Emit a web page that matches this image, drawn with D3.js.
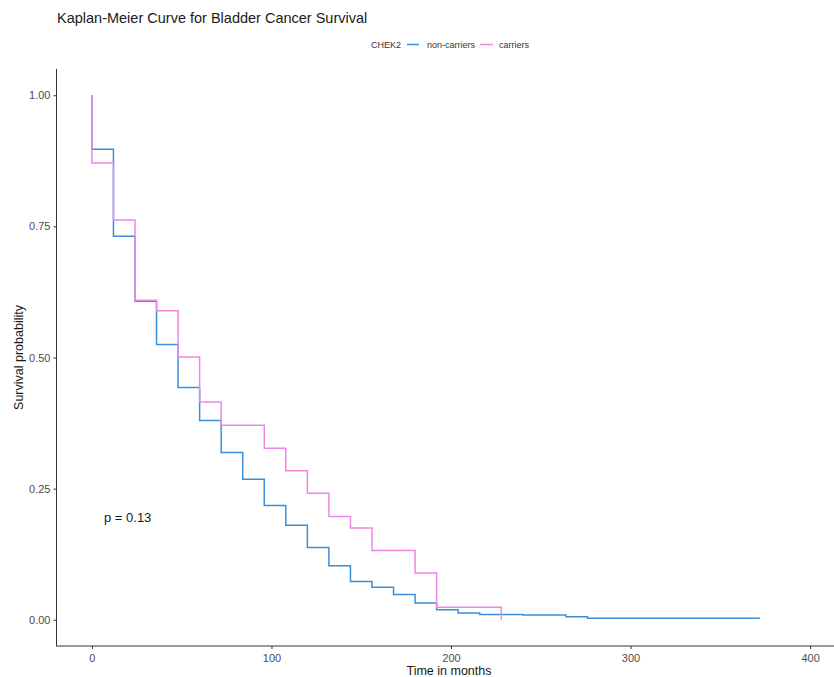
<!DOCTYPE html>
<html><head><meta charset="utf-8">
<script src="https://cdn.jsdelivr.net/npm/d3@7"></script>
<style>body{margin:0;background:#fff}svg{display:block}text{font-family:"Liberation Sans",Arial,sans-serif}</style>
</head><body>
<svg id="c" width="834" height="677"></svg>
<script>
const times = [0,12,24,36,48,60,72,84,96,108,120,132,144,156,168,180,192,204,216,228,240,264,276,372];
const nonCarriers = [0.897,0.731,0.607,0.525,0.443,0.380,0.319,0.268,0.218,0.180,0.138,0.103,0.073,0.062,0.048,0.032,0.019,0.013,0.010,0.010,0.009,0.006,0.003,0.003];
const carrierTimes = [0,12,24,36,48,60,72,96,108,120,132,144,156,180,192,228];
const carriers = [0.871,0.762,0.609,0.589,0.501,0.415,0.371,0.327,0.284,0.241,0.197,0.175,0.132,0.089,0.024,0.0];
const xTicks = [0,100,200,300,400];
const yTicks = [0,0.25,0.5,0.75,1.0];
const yTickLabels = ["0.00","0.25","0.50","0.75","1.00"];
const seriesNames = ["non-carriers","carriers"];
const colors = ["#3a8fdc","#ee86e8"];

const svg = d3.select("#c");
const x = d3.scaleLinear().domain([-20,420]).range([56,846]);
const y = d3.scaleLinear().domain([-0.05,1.05]).range([646,69]);

svg.append("text").attr("x",57).attr("y",23).attr("font-size",14.5).attr("fill","#1a1a1a")
  .text("Kaplan-Meier Curve for Bladder Cancer Survival");

// axes
const gx = svg.append("g").attr("transform",`translate(0,${y(-0.05)})`)
  .call(d3.axisBottom(x).tickValues(xTicks).tickSize(3).tickPadding(5).tickFormat(d3.format("d")));
const gy = svg.append("g").attr("transform",`translate(${x(-20)+0.5},0)`)
  .call(d3.axisLeft(y).tickValues(yTicks).tickSize(3).tickPadding(3).tickFormat((d,i)=>yTickLabels[i]));
[gx,gy].forEach(g=>{
  g.select(".domain").attr("stroke","#333").attr("stroke-width",1);
  g.selectAll(".tick line").attr("stroke","#333");
  g.selectAll(".tick text").attr("fill","#4d4d4d").attr("font-size",11).attr("font-family","Liberation Sans, Arial, sans-serif");
});
gy.select(".domain").attr("d",`M0,${y(1.05)}V${y(-0.05)}`);
gx.select(".domain").attr("d",`M${x(-20)},0H834`);

svg.append("text").attr("x",449).attr("y",675).attr("text-anchor","middle").attr("font-size",12.5).attr("fill","#1a1a1a").text("Time in months");
svg.append("text").attr("transform",`translate(23,${y(0.5)}) rotate(-90)`).attr("text-anchor","middle").attr("font-size",12.5).attr("fill","#1a1a1a").text("Survival probability");

// curves
const line = d3.line().x(d=>x(d[0])).y(d=>y(d[1])).curve(d3.curveStepAfter);
const blueData = [[0,1.0]].concat(times.map((t,i)=>[t,nonCarriers[i]]));
const pinkData = [[0,1.0]].concat(carrierTimes.map((t,i)=>[t,carriers[i]]));
svg.append("path").datum(blueData).attr("d",line).attr("fill","none").attr("stroke",colors[0]).attr("stroke-width",1.5);
svg.append("path").datum(pinkData).attr("d",line).attr("fill","none").attr("stroke",colors[1]).attr("stroke-width",1.5);

svg.append("text").attr("x",104).attr("y",522).attr("font-size",13).attr("fill","#1a1a1a").text("p = 0.13");

// legend
const lg = svg.append("g").attr("font-size",9);
lg.append("text").attr("x",371).attr("y",48).attr("fill","#333").text("CHEK2");
lg.append("line").attr("x1",407).attr("x2",419).attr("y1",44.5).attr("y2",44.5).attr("stroke",colors[0]).attr("stroke-width",1.5);
lg.append("text").attr("x",427).attr("y",48).attr("fill","#333").text(seriesNames[0]);
lg.append("line").attr("x1",480).attr("x2",493).attr("y1",44.5).attr("y2",44.5).attr("stroke",colors[1]).attr("stroke-width",1.5);
lg.append("text").attr("x",499).attr("y",48).attr("fill","#333").text(seriesNames[1]);
</script>
</body></html>
